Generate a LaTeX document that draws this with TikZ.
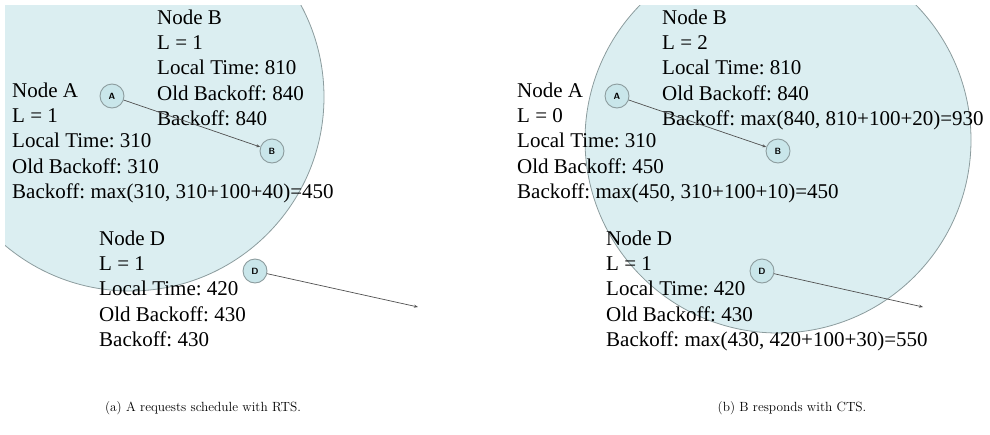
\documentclass[tikz,border=0pt]{standalone}
\usepackage{fontspec}
\usepackage{tikz}
\usetikzlibrary{arrows.meta}
\newfontfamily\timesfont{Liberation Serif}
\definecolor{rangefill}{HTML}{DBEEF1}
\definecolor{rangeedge}{HTML}{8C9C9E}
\definecolor{stafill}{HTML}{C9E6EA}
\definecolor{linkcol}{HTML}{505050}

\begin{document}
\begin{tikzpicture}
         [x=1pt,y=-1pt,
          txrange/.style={fill=rangefill,draw=rangeedge,line width=0.8pt},
          sta/.style={circle,draw=rangeedge,fill=stafill,line width=0.9pt,minimum size=24pt,inner sep=0pt,font=\sffamily\bfseries\fontsize{9}{9}\selectfont},
          info/.style={anchor=north west,align=left,inner sep=0pt,font=\timesfont\frenchspacing\fontsize{21}{25.3}\selectfont},
          link/.style={draw=linkcol,line width=0.7pt,-{Stealth[length=4pt,width=3pt]}},
          subcap/.style={font=\fontsize{13.3}{15}\selectfont}]
         \useasboundingbox (0,0) rectangle (990,434);
         % transmission ranges
         \begin{scope}
            \clip (5,5) rectangle (450,434);
            \path[txrange] (130,97) circle[radius=194];
         \end{scope}
         \begin{scope}
            \clip (500,5) rectangle (990,434);
            \path[txrange] (778,140) circle[radius=193];
         \end{scope}
         % (a) A requests schedule with RTS
         \node[sta] (a1) at (112,96)  {A};
         \node[sta] (b1) at (272,151) {B};
         \node[sta] (d1) at (255,271) {D};
         \coordinate (e1) at (418,307);
         \node[info] (ia1) at (12,82.6) {Node A\\L = 1\\Local Time: 310\\Old Backoff: 310\\Backoff: max(310, 310+100+40)=450};
         \node[info] (ib1) at (157,9.6) {Node B\\L = 1\\Local Time: 810\\Old Backoff: 840\\Backoff: 840};
         \node[info] (id1) at (99,230.6) {Node D\\L = 1\\Local Time: 420\\Old Backoff: 430\\Backoff: 430};
         % (b) B responds with CTS
         \node[sta] (a2) at (617,96)  {A};
         \node[sta] (b2) at (778,151) {B};
         \node[sta] (d2) at (762,271) {D};
         \coordinate (e2) at (923,307);
         \node[info] (ia2) at (517,82.6) {Node A\\L = 0\\Local Time: 310\\Old Backoff: 450\\Backoff: max(450, 310+100+10)=450};
         \node[info] (ib2) at (662,9.6) {Node B\\L = 2\\Local Time: 810\\Old Backoff: 840\\Backoff: max(840, 810+100+20)=930};
         \node[info] (id2) at (606,230.6) {Node D\\L = 1\\Local Time: 420\\Old Backoff: 430\\Backoff: max(430, 420+100+30)=550};
         \foreach \from/\to in {a1/b1, d1/e1, a2/b2, d2/e2}
            \draw[link] (\from) -- (\to);
         % captions
         \node[subcap] (capa) at (203,408) {(a) A requests schedule with RTS.};
         \node[subcap] (capb) at (792,408) {(b) B responds with CTS.};
       \end{tikzpicture}
\end{document}
